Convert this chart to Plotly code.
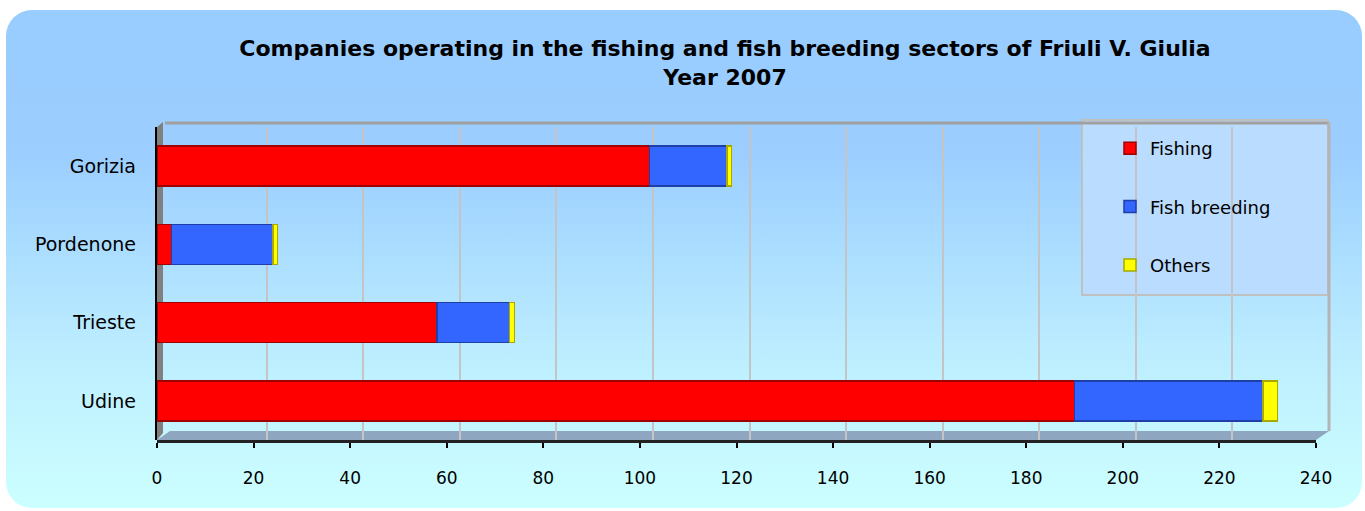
import base64
import plotly.graph_objects as go

# ---- data ----
regions = ["Udine", "Trieste", "Pordenone", "Gorizia"]
fishing = [190, 58, 3, 102]
fish_breeding = [39, 15, 21, 16]
others = [3, 1, 1, 1]
x_ticks = list(range(0, 241, 20))
title_line1 = "Companies operating in the fishing and fish breeding sectors of Friuli V. Giulia"
title_line2 = "Year 2007"

W, H = 1365, 511
L, R, T, B = 157, 1316, 127, 440  # plot area in px
pw, ph = R - L, B - T
FONT = "DejaVu Sans, Liberation Sans, Arial, sans-serif"

def px_x(p):
    return (p - L) / pw

def px_y(p):
    return (B - p) / ph

svg = f'''<svg xmlns="http://www.w3.org/2000/svg" width="{W}" height="{H}" viewBox="0 0 {W} {H}" preserveAspectRatio="none">
<defs><linearGradient id="g" x1="0" y1="0" x2="0" y2="1">
<stop offset="0" stop-color="#99ccff"/><stop offset="0.3" stop-color="#9ccfff"/>
<stop offset="0.7" stop-color="#bdeeff"/><stop offset="1" stop-color="#ccffff"/>
</linearGradient></defs>
<rect x="6" y="10" width="1356" height="498" rx="26" ry="26" fill="url(#g)"/>
</svg>'''
src = "data:image/svg+xml;base64," + base64.b64encode(svg.encode()).decode()

fig = go.Figure()
series = [
    ("Fishing", fishing, "#ff0000", "#a00000"),
    ("Fish breeding", fish_breeding, "#3366ff", "#1f3fa8"),
    ("Others", others, "#ffff00", "#a8a800"),
]
for name, vals, col, line in series:
    fig.add_trace(go.Bar(
        y=regions, x=vals, name=name, orientation="h", width=0.51,
        marker=dict(color=col, line=dict(color=line, width=1.5)),
        legendgroup=name, xaxis="x", yaxis="y",
    ))

# invisible trace on shifted axis to draw back-wall gridlines
fig.add_trace(go.Scatter(x=[x_ticks[0], x_ticks[-1]], y=[regions[0], regions[0]],
                         xaxis="x2", yaxis="y", mode="markers", marker=dict(opacity=0),
                         showlegend=False, hoverinfo="skip"))

depth_dx = 13  # px
shift = depth_dx / (pw / 240)

fig.update_layout(
    width=W, height=H,
    margin=dict(l=L, r=W - R, t=T, b=H - B, pad=0),
    paper_bgcolor="white",
    plot_bgcolor="#b9dcff",
    barmode="stack",
    font=dict(family=FONT, color="black", size=16),
    title=dict(text=f"<b>{title_line1}<br>{title_line2}</b>",
               x=725 / W, xanchor="center", xref="container",
               y=1 - 56 / H, yanchor="middle", yref="container",
               font=dict(size=22, family=FONT)),
    xaxis=dict(range=[0, 240], tickvals=x_ticks, showgrid=False, zeroline=False,
               showline=True, linecolor="#222222", linewidth=3,
               ticks="outside", ticklen=5, tickwidth=2, tickcolor="black",
               ticklabelstandoff=16, tickfont=dict(size=17)),
    xaxis2=dict(range=[-shift, 240 - shift], overlaying="x", showgrid=True,
                gridcolor="#c4c4c4", gridwidth=2, tickvals=x_ticks[1:],
                showticklabels=False, zeroline=False, showline=False, ticks=""),
    yaxis=dict(categoryorder="array", categoryarray=regions, showgrid=False,
               showline=False, ticks="", ticklabelstandoff=20, tickfont=dict(size=19)),
    legend=dict(x=px_x(1110), y=px_y(130), xanchor="left", yanchor="top",
                bgcolor="rgba(0,0,0,0)", borderwidth=0, traceorder="grouped",
                tracegroupgap=32, font=dict(size=18), itemwidth=30),
    showlegend=True,
    images=[dict(source=src, xref="paper", yref="paper",
                 x=-L / pw, y=1 + T / ph,
                 sizex=W / pw, sizey=H / ph, sizing="stretch",
                 xanchor="left", yanchor="top", layer="below")],
)

shapes = []
# back wall top/right border
shapes.append(dict(type="line", xref="paper", yref="paper", x0=px_x(L + 8), x1=px_x(R + depth_dx),
                   y0=px_y(T - 4), y1=px_y(T - 4), line=dict(color="#a0a0a0", width=3), layer="above"))
shapes.append(dict(type="line", xref="paper", yref="paper", x0=px_x(R + depth_dx), x1=px_x(R + depth_dx),
                   y0=px_y(T - 5), y1=px_y(B - 9), line=dict(color="#b4b4b4", width=3), layer="above"))
# floor
shapes.append(dict(type="path", xref="paper", yref="paper",
                   path=f"M {px_x(L)},{px_y(B)} L {px_x(R)},{px_y(B)} L {px_x(R + depth_dx)},{px_y(B - 9)} "
                        f"L {px_x(L + depth_dx)},{px_y(B - 9)} Z",
                   fillcolor="#8fa6c0", line=dict(width=0), layer="between"))
# left wall
shapes.append(dict(type="path", xref="paper", yref="paper",
                   path=f"M {px_x(L)},{px_y(B)} L {px_x(L)},{px_y(T)} L {px_x(L + 6)},{px_y(T - 5)} "
                        f"L {px_x(L + 6)},{px_y(B - 7)} Z",
                   fillcolor="#808080", line=dict(width=0), layer="between"))
shapes.append(dict(type="line", xref="paper", yref="paper", x0=px_x(L - 1), x1=px_x(L - 1),
                   y0=px_y(T), y1=px_y(B), line=dict(color="black", width=2), layer="above"))
# legend box
shapes.append(dict(type="rect", xref="paper", yref="paper", x0=px_x(1082), x1=px_x(1328),
                   y0=px_y(295), y1=px_y(120), line=dict(color="#c0c0c0", width=2),
                   fillcolor="#b9dcff", layer="between"))
fig.update_layout(shapes=shapes)

fig.write_html("out.html", config={"displayModeBar": False},
               post_script="document.body.style.margin='0';")
